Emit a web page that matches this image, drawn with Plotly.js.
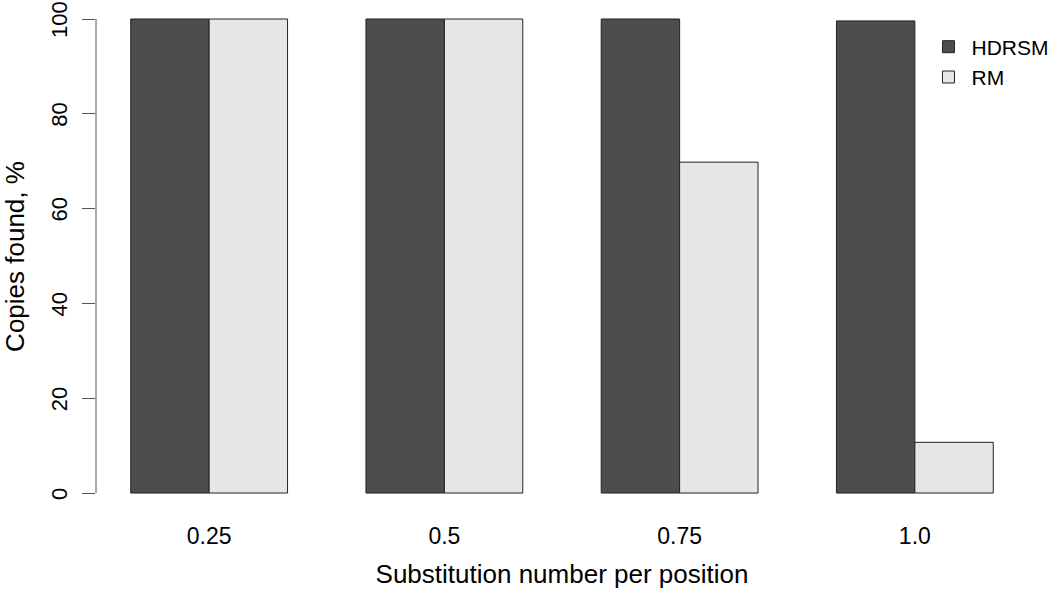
<!DOCTYPE html>
<html>
<head>
<meta charset="utf-8">
<script src="https://cdn.plot.ly/plotly-3.0.1.min.js"></script>
<style>
  body { margin: 0; background: #fff; }
  #chart { width: 1062px; height: 595px; }
</style>
</head>
<body>
<div id="chart"></div>
<script>
var categories = ['0.25', '0.5', '0.75', '1.0'];
var hdrsm = [100, 100, 100, 99.6];
var rm = [100, 100, 69.8, 10.7];
var yTicks = [0, 20, 40, 60, 80, 100];

var font = 'Liberation Sans, Arial, sans-serif';

var traces = [
    {x: categories, y: hdrsm, type: 'bar', name: 'HDRSM',
     marker: {color: '#4d4d4d', line: {color: '#222', width: 1}}},
    {x: categories, y: rm, type: 'bar', name: 'RM',
     marker: {color: '#e6e6e6', line: {color: '#222', width: 1}}}
];

var layout = {
    width: 1062,
    height: 595,
    margin: {l: 96, r: 34, t: 1, b: 83},
    paper_bgcolor: '#fff',
    plot_bgcolor: '#fff',
    barmode: 'group',
    bargap: 1 / 3,
    bargroupgap: 0,
    font: {family: font, size: 22, color: '#000'},
    xaxis: {
        type: 'category',
        range: [-0.481, 3.481],
        showline: false,
        showgrid: false,
        zeroline: false,
        ticks: '',
        tickfont: {size: 23},
        ticklabelstandoff: 8,
        title: {text: 'Substitution number per position', standoff: 16},
        fixedrange: true
    },
    yaxis: {
        range: [-4, 103.8],
        tickvals: yTicks,
        tickangle: -90,
        tickfont: {size: 22},
        ticklabeloverflow: 'allow',
        ticklabelshift: 4,
        ticks: 'outside',
        ticklen: 13,
        tickcolor: '#555',
        showline: false,
        showgrid: false,
        zeroline: false,
        ticklabelstandoff: 6,
        title: {text: 'Copies found, %', standoff: 18},
        fixedrange: true
    },
    shapes: [{
        type: 'line', xref: 'paper', yref: 'y',
        x0: 0, x1: 0, y0: 0, y1: 100,
        line: {color: '#555', width: 1}
    }],
    legend: {
        x: 0.89, y: 0.95, xanchor: 'left', yanchor: 'top',
        bgcolor: 'rgba(0,0,0,0)',
        font: {size: 21},
        tracegroupgap: 0,
        itemwidth: 36
    },
    showlegend: true
};

Plotly.newPlot('chart', traces, layout, {displayModeBar: false, staticPlot: true});
</script>
</body>
</html>
